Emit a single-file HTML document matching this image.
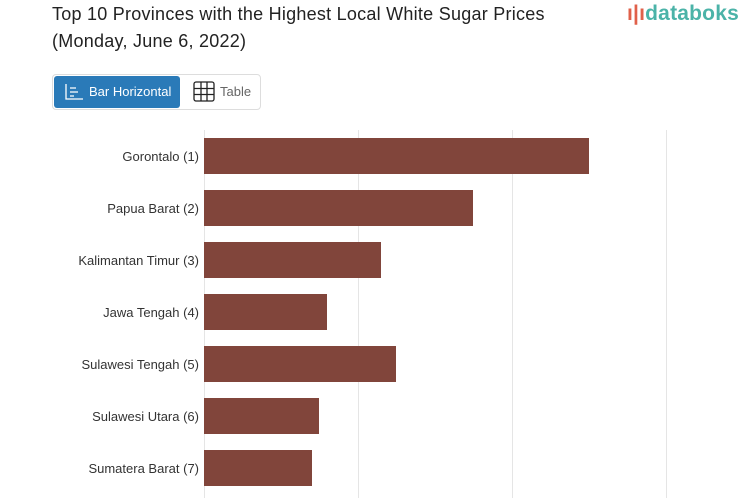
<!DOCTYPE html><html><head><style>
body{margin:0;width:753px;height:498px;overflow:hidden;background:#fff;font-family:"Liberation Sans",sans-serif;position:relative}
.t{position:absolute;left:52px;top:1px;font-size:18px;line-height:27px;color:#222;letter-spacing:0.25px}
.logo{position:absolute;left:627px;top:2px;font-size:21px;color:#4bb3a8;font-weight:bold;letter-spacing:0.2px}
.grp{position:absolute;left:52px;top:74px;width:207px;height:34px;border:1px solid #ddd;border-radius:4px}
.b1{position:absolute;left:1px;top:1px;width:126px;height:32px;background:#2a7ab8;border-radius:3px;color:#fff;font-size:13px;line-height:32px;text-indent:35px}
.b2{position:absolute;left:167px;top:1px;font-size:13px;line-height:32px;color:#666}
.g{position:absolute;top:130px;width:1px;height:368px;background:#e5e5e5}
.bar{position:absolute;left:204px;height:36px;background:#81453b}
.l{position:absolute;right:554px;font-size:13px;color:#333;line-height:16px;text-align:right;white-space:nowrap}
</style></head><body>
<div class="t">Top 10 Provinces with the Highest Local White Sugar Prices<br>(Monday, June 6, 2022)</div>
<div class="logo"><span style="color:#e0604a">ı|ı</span>databoks</div>
<div class="grp"><div class="b1">Bar Horizontal
<svg style="position:absolute;left:10px;top:7px" width="20" height="18" viewBox="0 0 20 18" fill="none" stroke="#fff" stroke-width="1.3"><path d="M2 1v15h17M6 5h6M6 9h8M6 13h4"/></svg></div>
<svg style="position:absolute;left:140px;top:6px" width="22" height="21" viewBox="0 0 22 21" fill="none" stroke="#222" stroke-width="1.3"><rect x="1" y="1" width="20" height="19" rx="2"/><path d="M8 1v19M14 1v19M1 7.5h20M1 13.5h20"/></svg>
<div class="b2">Table</div></div>
<div class="g" style="left:204px"></div><div class="g" style="left:358px"></div><div class="g" style="left:512px"></div><div class="g" style="left:666px"></div>
<div class="bar" style="top:138px;width:385px"></div>
<div class="bar" style="top:190px;width:269px"></div>
<div class="bar" style="top:242px;width:177px"></div>
<div class="bar" style="top:294px;width:123px"></div>
<div class="bar" style="top:346px;width:192px"></div>
<div class="bar" style="top:398px;width:115px"></div>
<div class="bar" style="top:450px;width:108px"></div>
<div class="l" style="top:149px">Gorontalo (1)</div>
<div class="l" style="top:201px">Papua Barat (2)</div>
<div class="l" style="top:253px">Kalimantan Timur (3)</div>
<div class="l" style="top:305px">Jawa Tengah (4)</div>
<div class="l" style="top:357px">Sulawesi Tengah (5)</div>
<div class="l" style="top:409px">Sulawesi Utara (6)</div>
<div class="l" style="top:461px">Sumatera Barat (7)</div>
</body></html>
